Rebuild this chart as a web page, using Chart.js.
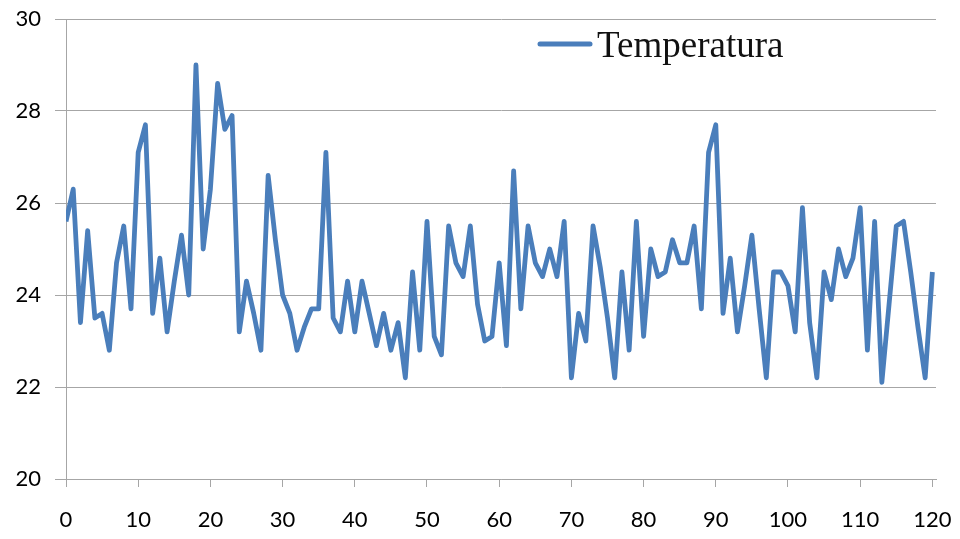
<!DOCTYPE html>
<html lang="es">
<head>
<meta charset="UTF-8">
<title>Temperatura</title>
<script src="https://cdn.jsdelivr.net/npm/chart.js"></script>
<style>
  html, body { margin: 0; padding: 0; background: #fff; }
  #wrap { width: 960px; height: 539px; }
</style>
</head>
<body>
<div id="wrap"><canvas id="tempChart"></canvas></div>
<script>
  // Lecturas de temperatura, una por muestra (muestra 0 a 120)
  const temperatura = [
    25.6, 26.3, 23.4, 25.4, 23.5, 23.6, 22.8, 24.7, 25.5, 23.7,
    27.1, 27.7, 23.6, 24.8, 23.2, 24.3, 25.3, 24.0, 29.0, 25.0,
    26.3, 28.6, 27.6, 27.9, 23.2, 24.3, 23.6, 22.8, 26.6, 25.2,
    24.0, 23.6, 22.8, 23.3, 23.7, 23.7, 27.1, 23.5, 23.2, 24.3,
    23.2, 24.3, 23.6, 22.9, 23.6, 22.8, 23.4, 22.2, 24.5, 22.8,
    25.6, 23.1, 22.7, 25.5, 24.7, 24.4, 25.5, 23.8, 23.0, 23.1,
    24.7, 22.9, 26.7, 23.7, 25.5, 24.7, 24.4, 25.0, 24.4, 25.6,
    22.2, 23.6, 23.0, 25.5, 24.6, 23.5, 22.2, 24.5, 22.8, 25.6,
    23.1, 25.0, 24.4, 24.5, 25.2, 24.7, 24.7, 25.5, 23.7, 27.1,
    27.7, 23.6, 24.8, 23.2, 24.2, 25.3, 23.7, 22.2, 24.5, 24.5,
    24.2, 23.2, 25.9, 23.4, 22.2, 24.5, 23.9, 25.0, 24.4, 24.8,
    25.9, 22.8, 25.6, 22.1, 23.8, 25.5, 25.6, 24.5, 23.3, 22.2,
    24.5
  ];
  const xTicks = [0, 10, 20, 30, 40, 50, 60, 70, 80, 90, 100, 110, 120];
  const yTicks = [20, 22, 24, 26, 28, 30];

  const lineColor = '#4a7ebb';
  const gridColor = '#a6a6a6';
  const tickFont = { family: 'Lato, "Open Sans", sans-serif', size: 22 };

  // Leyenda dentro del área del gráfico, arriba a la derecha
  const legendInside = {
    id: 'legendInside',
    afterDraw(chart) {
      const ctx = chart.ctx;
      const ds = chart.data.datasets[0];
      ctx.save();
      ctx.strokeStyle = ds.borderColor;
      ctx.lineWidth = 5;
      ctx.lineCap = 'round';
      ctx.beginPath();
      ctx.moveTo(540, 44);
      ctx.lineTo(590, 44);
      ctx.stroke();
      ctx.font = '37px "Liberation Serif", serif';
      ctx.fillStyle = '#111';
      ctx.textBaseline = 'alphabetic';
      ctx.fillText(ds.label, 597, 57);
      ctx.restore();
    }
  };

  new Chart(document.getElementById('tempChart'), {
    type: 'line',
    data: {
      datasets: [{
        label: 'Temperatura',
        data: temperatura.map((t, i) => ({ x: i, y: t })),
        borderColor: lineColor,
        backgroundColor: lineColor,
        borderWidth: 4.8,
        borderJoinStyle: 'round',
        tension: 0,
        pointRadius: 0,
        fill: false
      }]
    },
    options: {
      responsive: true,
      maintainAspectRatio: false,
      animation: false,
      layout: { padding: { top: 19, right: 24, left: 0, bottom: 0 } },
      plugins: {
        legend: { display: false },
        tooltip: { enabled: false }
      },
      scales: {
        x: {
          type: 'linear',
          min: 0,
          max: 120.5,
          afterBuildTicks: s => { s.ticks = xTicks.map(v => ({ value: v })); },
          afterFit: s => { s.height = 60; s.paddingLeft = 0; s.paddingRight = 0; },
          grid: { drawOnChartArea: false, drawTicks: true, tickLength: 8, color: gridColor },
          border: { color: gridColor },
          ticks: { color: '#000', font: tickFont, padding: 20, maxRotation: 0 }
        },
        y: {
          min: 20,
          max: 30,
          afterBuildTicks: s => { s.ticks = yTicks.map(v => ({ value: v })); },
          afterFit: s => { s.width = 66; s.paddingTop = 0; s.paddingBottom = 0; },
          grid: { color: gridColor, tickLength: 11 },
          border: { color: gridColor },
          ticks: { color: '#000', font: tickFont, padding: 14 }
        }
      }
    },
    plugins: [legendInside]
  });
</script>
</body>
</html>
